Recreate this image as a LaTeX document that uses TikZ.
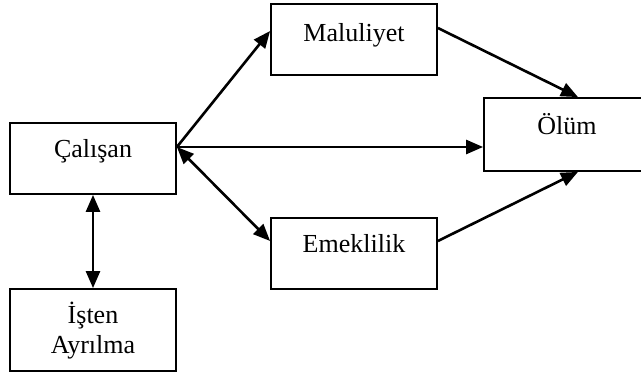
\documentclass[tikz,border=0pt]{standalone}
\usepackage{fontspec}
\setmainfont{Liberation Serif}
\usetikzlibrary{arrows.meta,calc}
\begin{document}
\begin{tikzpicture}[x=1pt,y=-1pt,
  box/.style={draw,line width=1.8pt,minimum width=166pt,inner sep=0pt},
  lbl/.style={font=\fontsize{26}{30}\selectfont,anchor=base,inner sep=0pt},
  tip/.style={},
  arr/.style={line width=2.6pt,-{Triangle[length=17pt,width=14pt]}},
  darr/.style={line width=2.6pt,{Triangle[length=17pt,width=14pt]}-{Triangle[length=17pt,width=14pt]}}]
\useasboundingbox (0,0) rectangle (641,374);
\begin{scope}
\clip (0,0) rectangle (641,374);
\node[box,minimum height=71pt] (cal) at (93,158.5) {};
\node[box,minimum height=71pt] (mal) at (354,39.5) {};
\node[box,minimum height=73pt] (olum) at (567,134.5) {};
\node[box,minimum height=71pt] (emk) at (354,253.5) {};
\node[box,minimum height=82pt] (ist) at (93,330) {};
\end{scope}
\node[lbl] (calt) at (93,158) {Çalışan};
\node[lbl] (malt) at (354,42) {Maluliyet};
\node[lbl] (olumt) at (567,135) {Ölüm};
\node[lbl] (emkt) at (354,253) {Emeklilik};
\node[lbl] (istt) at (93,324) {İşten};
\node[lbl] (istt2) at (93,354) {Ayrılma};
\coordinate (calE) at ($(cal.east)+(0,-11.5)$);
\coordinate (malW) at ($(mal.west)+(0,-8.5)$);
\coordinate (malE) at ($(mal.east)+(0,-11.5)$);
\coordinate (olumN) at ($(olum.north)+(11,0)$);
\coordinate (olumS) at ($(olum.south)+(11,0)$);
\coordinate (olumW) at ($(olum.west)+(0,12.5)$);
\coordinate (emkW) at ($(emk.west)+(0,-12.5)$);
\coordinate (emkE) at ($(emk.east)+(0,-12.5)$);
\draw[arr] (calE) -- (malW);
\draw[arr] (calE) -- (olumW);
\draw[darr] (calE) -- (emkW);
\draw[arr] (malE) -- (olumN);
\draw[arr] (emkE) -- (olumS);
\draw[darr] (cal.south) -- (ist.north);
\end{tikzpicture}
\end{document}
